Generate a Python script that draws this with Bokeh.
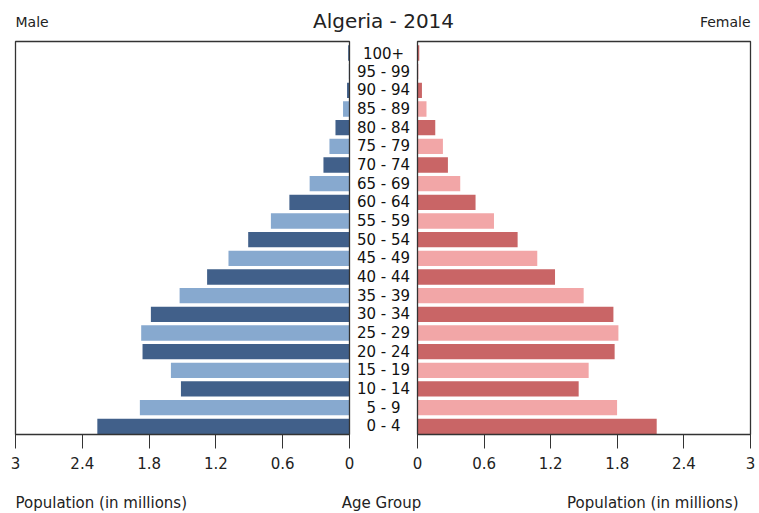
from bokeh.plotting import figure
from bokeh.layouts import column
from bokeh.models import (Range1d, LinearAxis, FixedTicker, CustomJSTickFormatter,
                          Label, LabelSet, ColumnDataSource)
from bokeh.core.properties import value
from bokeh.embed import file_html
from bokeh.resources import INLINE

# ---------------- data ----------------
age_groups = ["0 - 4", "5 - 9", "10 - 14", "15 - 19", "20 - 24", "25 - 29", "30 - 34",
              "35 - 39", "40 - 44", "45 - 49", "50 - 54", "55 - 59", "60 - 64", "65 - 69",
              "70 - 74", "75 - 79", "80 - 84", "85 - 89", "90 - 94", "95 - 99", "100+"]
male = [2.265, 1.883, 1.514, 1.604, 1.859, 1.871, 1.784, 1.526, 1.279, 1.087, 0.910,
        0.706, 0.540, 0.358, 0.234, 0.180, 0.126, 0.058, 0.022, 0.006, 0.012]
female = [2.155, 1.798, 1.452, 1.542, 1.776, 1.810, 1.765, 1.497, 1.239, 1.079, 0.902,
          0.689, 0.523, 0.385, 0.274, 0.229, 0.160, 0.081, 0.040, 0.008, 0.016]
tick_values = [0, 0.6, 1.2, 1.8, 2.4, 3]
title_text = "Algeria - 2014"
left_title = "Male"
right_title = "Female"
x_label = "Population (in millions)"
mid_label = "Age Group"

# ---------------- layout (page pixels) ----------------
W = 759
MAIN_H = 482
STRIP_H = 31
FB = 436                                    # bottom of main frame
M3, M0 = 15, 349                            # male panel: x of 3 and of 0
F0, F3 = 417, 750                           # female panel: x of 0 and of 3
BOX_T, BOX_B = 41, 434
ROW0, ROWN = 425.8, 52.5                    # centres of first / last row
AXMAX = tick_values[-1]

SF = (F3 - F0) / AXMAX
SM = (M0 - M3) / AXMAX
NR = len(age_groups) - 1
SY = (ROW0 - ROWN) / NR


def xf(px):   # page px -> female (main) data units
    return (px - F0) / SF


def yv(py):   # page px -> y data units
    return (ROW0 - py) / SY


x_main = Range1d(start=xf(0), end=xf(W))
x_male = Range1d(start=(M0 - 0) / SM, end=(M0 - W) / SM)
y_rng = Range1d(start=yv(FB), end=yv(0))

p = figure(frame_width=W, frame_height=FB,
           min_border_left=0, min_border_right=0,
           min_border_top=0, min_border_bottom=MAIN_H - FB,
           x_range=x_main, y_range=y_rng,
           x_axis_location=None, y_axis_location=None,
           toolbar_location=None, output_backend="svg")
p.extra_x_ranges = {"male": x_male}
p.outline_line_color = None
p.grid.visible = False
p.background_fill_color = "white"
p.border_fill_color = "white"

FONT = "DejaVu Sans"
TXT = "#222222"
dark_m, light_m = "#41608a", "#87a9cf"
dark_f, light_f = "#c96566", "#f2a6a7"

idx = list(range(len(age_groups)))
src = ColumnDataSource(dict(
    y=idx, age=age_groups, male=male, female=female,
    mcol=[dark_m if i % 2 == 0 else light_m for i in idx],
    fcol=[dark_f if i % 2 == 0 else light_f for i in idx],
))

p.hbar(y="y", left=0, right="male", height=0.82, source=src, x_range_name="male",
       fill_color="mcol", line_color=None)
p.hbar(y="y", left=0, right="female", height=0.82, source=src,
       fill_color="fcol", line_color=None)

# panel boxes
p.quad(left=0, right=AXMAX, bottom=yv(BOX_B), top=yv(BOX_T), x_range_name="male",
       fill_color=None, line_color="#333333", line_width=1.3)
p.quad(left=0, right=AXMAX, bottom=yv(BOX_B), top=yv(BOX_T),
       fill_color=None, line_color="#333333", line_width=1.3)

# axis with both panels' ticks
male_ticks = [xf(M0 - v * SM) for v in tick_values]
ax = LinearAxis(ticker=FixedTicker(ticks=male_ticks + tick_values),
                formatter=CustomJSTickFormatter(args=dict(f0=F0, sf=SF, m0=M0, sm=SM), code="""
                    let v = tick;
                    if (tick < -1e-9) { const px = f0 + tick*sf; v = (m0 - px)/sm; }
                    const r = Math.round(v*10)/10;
                    return String(Math.abs(r) < 1e-9 ? 0 : r);
                """))
ax.axis_line_color = None
ax.major_tick_in = 2
ax.major_tick_out = 12
ax.major_tick_line_color = "#333333"
ax.minor_tick_line_color = None
ax.major_label_standoff = 8
ax.major_label_text_font = FONT
ax.major_label_text_font_size = "15px"
ax.major_label_text_color = TXT
p.add_layout(ax, "below")

# age labels in the gap
mid_x = xf((M0 + F0) / 2)
p.add_layout(LabelSet(x=mid_x, y="y", text="age", source=src, text_font=value(FONT),
                      text_font_size="15px", text_align="center", text_baseline="middle",
                      text_color="#111111"))


def lab(fig, yfun, text, px, py, size, align):
    fig.add_layout(Label(x=xf(px), y=yfun(py), text=text, text_font=FONT,
                         text_font_size=size, text_align=align,
                         text_baseline="middle", text_color=TXT))


lab(p, yv, left_title, 15, 21, "14px", "left")
lab(p, yv, title_text, 383, 20, "20px", "center")
lab(p, yv, right_title, 750, 21, "14px", "right")

# bottom strip for the axis titles
s = figure(frame_width=W, frame_height=STRIP_H, min_border=0,
           min_border_left=0, min_border_right=0, min_border_top=0, min_border_bottom=0,
           x_range=x_main, y_range=Range1d(start=STRIP_H, end=0),
           x_axis_location=None, y_axis_location=None,
           toolbar_location=None, output_backend="svg")
s.outline_line_color = None
s.grid.visible = False
s.background_fill_color = "white"
s.border_fill_color = "white"


def ys(py):
    return py - MAIN_H


lab(s, ys, x_label, 15, 502, "15px", "left")
lab(s, ys, mid_label, 381, 502, "15px", "center")
lab(s, ys, x_label, 738, 502, "15px", "right")

layout = column(p, s, spacing=0)
open("out.html", "w").write(file_html(layout, INLINE))
